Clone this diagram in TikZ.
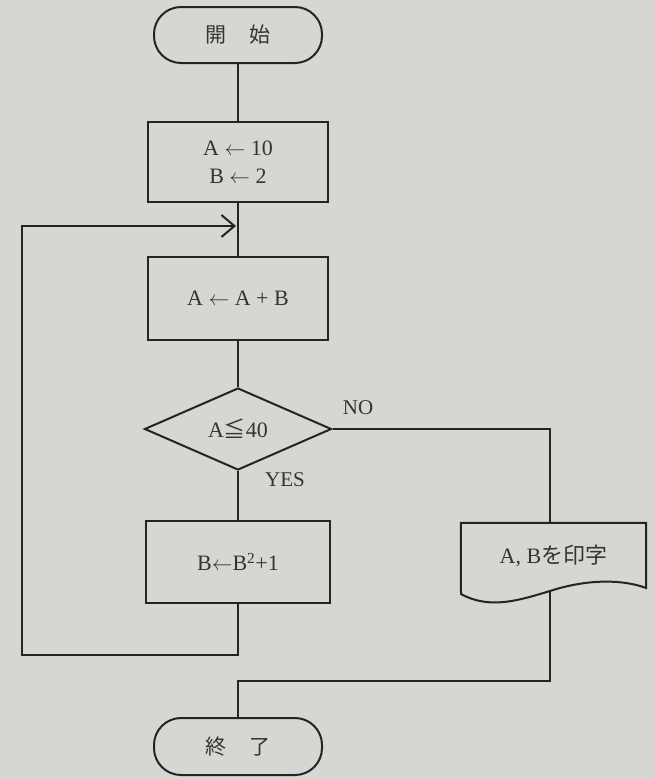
\documentclass[tikz,border=0pt]{standalone}
\usepackage{fontspec}
\setmainfont{Liberation Serif}
\newfontfamily\cjk{Noto Sans CJK JP}
\usetikzlibrary{shapes.geometric,arrows.meta}
\definecolor{bg}{RGB}{214,214,210}
\definecolor{ln}{RGB}{36,36,36}
\definecolor{tx}{RGB}{52,52,52}
\begin{document}
\begin{tikzpicture}[x=1pt,y=-1pt,
  every node/.style={text=tx, font=\fontsize{22}{27}\selectfont},
  box/.style={draw=ln, line width=2pt, minimum width=180pt, minimum height=82pt, inner sep=0pt, align=center},
  term/.style={draw=ln, line width=2pt, rounded corners=27pt, minimum width=168pt, minimum height=56pt, inner sep=0pt},
  conn/.style={draw=ln, line width=2pt},
  lbl/.style={font=\fontsize{21}{25}\selectfont}
]
\fill[bg] (0,0) rectangle (655,779);
\useasboundingbox (0,0) rectangle (655,779);

\node[term] (start) at (238,35) {{\cjk\fontsize{21}{25}\selectfont 開\hspace{1.1em}始}};
\node[box, minimum height=80pt] (b1) at (238,162) {A $\leftarrow$ 10\\[1pt]B $\leftarrow$ 2};
\node[box, minimum height=83pt] (b2) at (238,298.5) {A $\leftarrow$ A + B};
\node[draw=ln, line width=2pt, diamond, shape aspect=2, minimum width=187pt, minimum height=82pt, inner sep=0pt] (dec) at (238,429) {A{\cjk ≦}40};
\node[box, minimum width=184pt] (b3) at (238,562) {B$\leftarrow$B\textsuperscript{2}+1};
\node[minimum width=185pt, minimum height=65pt, inner sep=0pt] (doc) at (553.5,555.5) {A, B{\cjk を印字}};
\draw[conn] (doc.north west) -- (doc.north east) -- (646,588)
  .. controls (625,580) and (590,578) .. (550,591)
  .. controls (520,600) and (490,610) .. (461,594) -- cycle;
\node[term, minimum height=57pt] (end) at (238,746.5) {{\cjk\fontsize{21}{25}\selectfont 終\hspace{1.1em}了}};

\node[lbl] (no) at (358,408) {NO};
\node[lbl] (yes) at (285,480) {YES};

\coordinate (docout) at (550,591);
\coordinate (ej) at (238,681);
\coordinate (lb) at (22,655);
\coordinate (lt) at (22,226);

\draw[conn] (start) -- (b1);
\draw[conn] (b1) -- (b2);
\draw[conn] (b2) -- (dec);
\draw[conn] (dec) -- (b3);
\draw[conn] (dec.east) -| (docout |- doc.north);
\draw[conn] (docout) |- (ej) -- (end.north);
\draw[conn, line join=miter, -{Straight Barb[length=13pt,width=22pt,line width=2pt]}, shorten >=2pt]
  (b3.south) |- (lb) -- (lt) -- (lt -| b1.south);
\end{tikzpicture}
\end{document}
